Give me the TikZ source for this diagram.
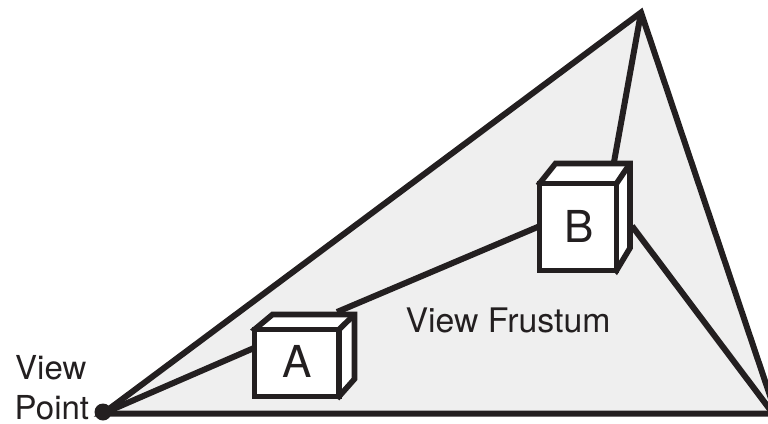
\documentclass[tikz,border=0pt]{standalone}
\usepackage{fontspec}
\setmainfont{TeX Gyre Heros}
\definecolor{ink}{HTML}{231F20}
\definecolor{frustum}{HTML}{EFEFEF}
\tikzset{
  edge/.style={draw=ink,line width=6pt,line join=miter,miter limit=6},
  boxline/.style={draw=ink,fill=white,line width=5.6pt,line join=miter},
  label/.style={text=ink,inner sep=0pt,font=\fontsize{33}{38}\selectfont,anchor=base west},
  letter/.style={text=ink,inner sep=0pt,font=\fontsize{44}{44}\selectfont}
}
\begin{document}
\begin{tikzpicture}[x=1pt,y=-1pt]
\useasboundingbox (0,0) rectangle (768,423);
\coordinate (vp) at (103,413.5);
\coordinate (top) at (641,12.5);
\coordinate (br) at (776,413.5);
\coordinate (brb) at (773,413.5);
\coordinate (aL) at (254,348);
\coordinate (aT) at (337,312);
\coordinate (bL) at (540,226);
\coordinate (bT) at (614,162);
\coordinate (bR) at (632,226);
\fill[frustum] (vp) -- (top) -- (br) -- cycle;
\draw[edge] (vp) -- (aL);
\draw[edge] (aT) -- (bL);
\draw[edge] (bT) -- (top);
\draw[edge] (bR) -- (brb);
\draw[edge] (br) -- (vp) -- (top) -- (br);
\fill[ink] (103,412) circle (8.5);
% box A
\draw[boxline] (254.5,329.5) -- (272.5,314.5) -- (354.5,314.5) -- (354.5,379) -- (339,396.5) -- cycle;
\draw[boxline] (254.5,329.5) rectangle (339,396.5);
\draw[draw=ink,line width=5.6pt] (339,329.5) -- (354.5,314.5);
\node[letter] (A) at (297.5,361) {A};
% box B
\draw[boxline] (539.5,183.5) -- (555.5,163.5) -- (630,163.5) -- (630,248) -- (616.5,270.5) -- cycle;
\draw[boxline] (539.5,183.5) rectangle (616.5,270.5);
\draw[draw=ink,line width=5.6pt] (616.5,183.5) -- (630,163.5);
\node[letter] (B) at (579,226) {B};
\node[label,font=\fontsize{33.8}{38}\selectfont,anchor=center] (vf) at (508,320) {View Frustum};
\node[label] (vw) at (15,379) {View};
\node[label] (pt) at (14.5,419.5) {Point};
\end{tikzpicture}
\end{document}
